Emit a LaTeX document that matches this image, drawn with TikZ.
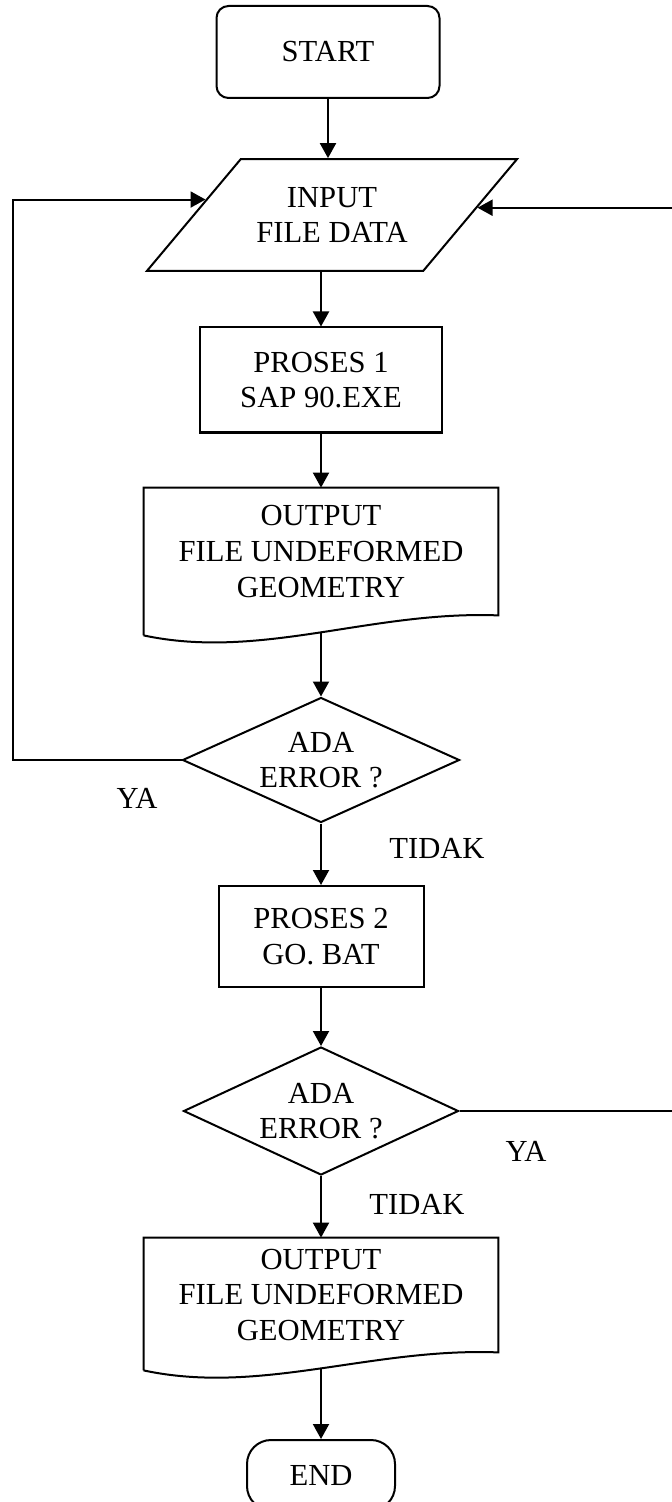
\documentclass[tikz,border=0pt]{standalone}
\usepackage{fontspec}
\setmainfont{Liberation Serif}
\usetikzlibrary{shapes.geometric,arrows.meta,calc}

\begin{document}
\begin{tikzpicture}[x=0.5pt, y=-0.5pt,
    flow/.style={draw, line width=1pt, align=center, inner sep=0pt, font={\fontsize{15.3pt}{17.8pt}\selectfont}},
    procbox/.style={flow, rectangle},
    termbox/.style={flow, rectangle, rounded corners=6pt},
    iobox/.style={flow, trapezium, trapezium left angle=50, trapezium right angle=130, trapezium stretches body, inner ysep=14pt},
    decbox/.style={flow, diamond, aspect=2.2},
    docbox/.style={align=center, inner sep=0pt, minimum width=177pt, font={\fontsize{15.3pt}{17.8pt}\selectfont}},
    lbl/.style={inner sep=0pt, font={\fontsize{15.3pt}{17.8pt}\selectfont}},
    arr/.style={line width=1pt, -{Triangle[length=7.5pt,width=8pt]}}]
    \useasboundingbox (0,0) rectangle (672,1502);

    \node[termbox, minimum width=111.5pt, minimum height=46pt] (start) at (328,52) {START};
    \node[iobox, minimum width=185pt, minimum height=55pt] (input) at (332,215) {INPUT\\FILE DATA};
    \node[procbox, minimum width=121pt, minimum height=52.5pt] (p1) at (321,380) {PROSES 1\\SAP 90.EXE};
    \node[docbox, minimum height=63.5pt] (out1) at (321,551.5) {OUTPUT\\FILE UNDEFORMED\\GEOMETRY};
    \node[decbox, minimum width=138.5pt, minimum height=62.5pt] (d1) at (321,760) {ADA\\ERROR ?};
    \node[procbox, minimum width=102.5pt, minimum height=50.5pt] (p2) at (321,936.5) {PROSES 2\\GO. BAT};
    \node[decbox, minimum width=137.5pt, minimum height=64pt] (d2) at (321,1111) {ADA\\ERROR ?};
    \node[docbox, minimum height=57pt] (out2) at (321,1295) {OUTPUT\\FILE UNDEFORMED\\GEOMETRY};
    \node[flow, rectangle, rounded corners=12pt, minimum width=74pt, minimum height=35pt] (endn) at (321,1475) {END};

    \node[lbl] (ya1) at (137,798) {YA};
    \node[lbl] (tidak1) at (437,848) {TIDAK};
    \node[lbl] (ya2) at (526,1151) {YA};
    \node[lbl] (tidak2) at (417,1204) {TIDAK};

    \draw[line width=1pt] ($(out1.south west)+(0,20)$) -- (out1.north west) -- (out1.north east) -- (out1.south east)
        .. controls ($(out1.south east)+(-127,-5)$) and ($(out1.south west)+(117,45)$) .. ($(out1.south west)+(0,20)$) coordinate[pos=0.5] (out1w);
    \draw[line width=1pt] ($(out2.south west)+(0,18)$) -- (out2.north west) -- (out2.north east) -- (out2.south east)
        .. controls ($(out2.south east)+(-127,-5)$) and ($(out2.south west)+(117,43)$) .. ($(out2.south west)+(0,18)$) coordinate[pos=0.5] (out2w);

    \coordinate (inL) at ($(input.bottom left corner)!0.636!(input.top left corner)$);
    \coordinate (inR) at ($(input.bottom right corner)!0.564!(input.top right corner)$);
    \coordinate (loopL) at (13,0);
    \coordinate (loopR) at (690,0);

    \draw[arr] (start.south) -- (start.south |- input.north);
    \draw[arr] (p1.north |- input.south) -- (p1.north);
    \draw[arr] (p1.south) -- (out1.north);
    \draw[arr] (d1.north |- out1w) -- (d1.north);
    \draw[arr] (d1.south) -- (p2.north);
    \draw[arr] (p2.south) -- (d2.north);
    \draw[arr] (d2.south) -- (out2.north);
    \draw[arr] (endn.north |- out2w) -- (endn.north);

    \draw[arr] (d1.west) -- (d1.west -| loopL) |- (inL);
    \draw[arr] (d2.east) -- (d2.east -| loopR) |- (inR);
\end{tikzpicture}
\end{document}
